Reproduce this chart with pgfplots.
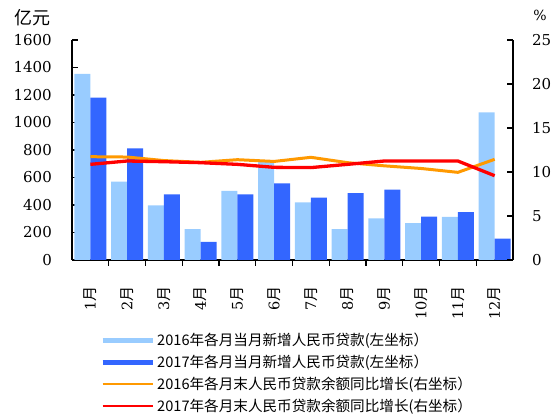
\documentclass[border=0pt]{standalone}
\usepackage{pgfplots}
\pgfplotsset{compat=1.18}
\usepackage{fontspec}
\setmainfont{DejaVu Serif}
\newfontfamily\cjk{Noto Sans CJK SC}
\definecolor{lb}{HTML}{99CCFF}
\definecolor{db}{HTML}{3366FF}
\definecolor{og}{HTML}{FF9900}
\definecolor{rd}{HTML}{FF0000}
\newcommand{\mo}[1]{{\fontsize{14.5bp}{16bp}\selectfont #1\cjk\fontsize{15bp}{16bp}\selectfont 月}}
\begin{document}
\begin{tikzpicture}
\useasboundingbox (0,0) rectangle (555bp,416bp);
\begin{axis}[
  at={(72bp,156bp)}, anchor=south west,
  scale only axis, width=441bp, height=220bp,
  xmin=0.5, xmax=12.5, ymin=0, ymax=1600,
  axis x line*=bottom, axis y line*=left,
  axis line style={line width=1.2pt, -},
  ytick={0,200,...,1600},
  xtick={1,...,12},
  xticklabels={\mo{1},\mo{2},\mo{3},\mo{4},\mo{5},\mo{6},\mo{7},\mo{8},\mo{9},\mo{10},\mo{11},\mo{12}},
  x tick label style={rotate=90, anchor=east, inner sep=0pt, yshift=0bp},
  xticklabel shift=20bp,
  major x tick style={draw=none},
  minor xtick={1.5,2.5,...,11.5},
  minor tick length=6bp,
  major tick length=6bp,
  tick style={line width=1.2pt, black},
  tick align=inside,
  y tick label style={font=\fontsize{15bp}{17bp}\selectfont, inner sep=0pt},
  yticklabel shift=20bp,
  /pgf/number format/assume math mode=true,
  /pgf/number format/1000 sep={},
  ybar=0pt, bar width=16bp,
]
\addplot[fill=lb, draw=none] coordinates {(1,1353) (2,570) (3,398) (4,225) (5,502) (6,715) (7,419) (8,225) (9,303) (10,269) (11,313) (12,1074)};
\addplot[fill=db, draw=none] coordinates {(1,1180) (2,812) (3,478) (4,131) (5,478) (6,558) (7,453) (8,487) (9,511) (10,315) (11,349) (12,155)};
\end{axis}
\begin{axis}[
  at={(72bp,156bp)}, anchor=south west,
  scale only axis, width=441bp, height=220bp,
  xmin=0.5, xmax=12.5, ymin=0, ymax=25,
  axis y line*=right, axis x line=none,
  axis line style={line width=1.2pt, -},
  ytick={0,5,...,25},
  major tick length=6bp,
  tick style={line width=1.2pt, black},
  tick align=inside,
  y tick label style={font=\fontsize{15bp}{17bp}\selectfont, inner sep=0pt},
  yticklabel shift=19bp,
  /pgf/number format/assume math mode=true,
  legend style={at={(0.0635,-0.323)}, anchor=north west, draw=none, fill=none,
    inner sep=0pt, row sep=4bp,
    font=\cjk\fontsize{14.6bp}{16bp}\selectfont,
    /tikz/every even column/.append style={column sep=2bp}},
  legend cell align=left,
  legend image code/.code={\draw[#1] (0bp,0bp) -- (50bp,0bp);},
]
\addlegendimage{lb, line width=5bp}
\addlegendentry{2016年各月当月新增人民币贷款(左坐标）}
\addlegendimage{db, line width=5bp}
\addlegendentry{2017年各月当月新增人民币贷款(左坐标）}
\addlegendimage{og, line width=2bp}
\addlegendentry{2016年各月末人民币贷款余额同比增长(右坐标）}
\addlegendimage{rd, line width=2bp}
\addlegendentry{2017年各月末人民币贷款余额同比增长(右坐标）}
\addplot[og, line width=3bp, forget plot] coordinates {(1,11.74) (2,11.7) (3,11.3) (4,11.1) (5,11.4) (6,11.2) (7,11.67) (8,11.06) (9,10.7) (10,10.4) (11,9.96) (12,11.44)};
\addplot[rd, line width=3.3bp, forget plot] coordinates {(1,10.87) (2,11.25) (3,11.17) (4,11.06) (5,10.87) (6,10.53) (7,10.5) (8,10.87) (9,11.25) (10,11.25) (11,11.25) (12,9.58)};
\end{axis}
\node[font=\cjk\fontsize{18bp}{20bp}\selectfont] at (32bp,398bp) {亿元};
\node[font=\fontsize{14bp}{16bp}\selectfont] at (540bp,401bp) {\%};
\end{tikzpicture}
\end{document}
